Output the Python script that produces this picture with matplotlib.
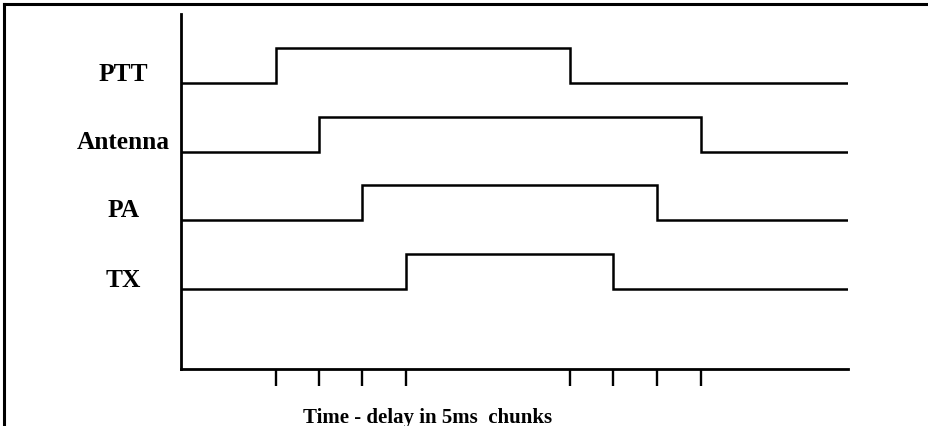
import matplotlib.pyplot as plt
from matplotlib.lines import Line2D

# signal lanes, top to bottom
signals = ['PTT', 'Antenna', 'PA', 'TX']
lane_base = [4.16, 3.16, 2.17, 1.16]   # low level of each lane
pulse_height = 0.51
rise = [2.18, 3.17, 4.16, 5.17]
fall = [8.94, 11.95, 10.94, 9.93]
t_end = 15.33
tick_times = [2.18, 3.17, 4.16, 5.17, 8.94, 9.93, 10.94, 11.95]

W, H = 929, 427
fig = plt.figure(figsize=(W / 100, H / 100), dpi=100)
ax = fig.add_axes([181 / W, (H - 370) / H, (848 - 181) / W, (370 - 15) / H])

for name, base, r, f in zip(signals, lane_base, rise, fall):
    hi = base + pulse_height
    ax.plot([0, r, r, f, f, t_end], [base, base, hi, hi, base, base],
            color='black', lw=1.8, solid_joinstyle='miter')
    ax.text(-1.33, base + 0.15, name, ha='center', va='center',
            fontsize=18.3, fontweight='bold', family='Liberation Serif')

ax.set_xlim(0, t_end)
ax.set_ylim(0, 5.17)
for s in ['top', 'right']:
    ax.spines[s].set_visible(False)
for s in ['left', 'bottom']:
    ax.spines[s].set_linewidth(2.0)
ax.set_xticks(tick_times)
ax.set_xticklabels([])
ax.set_yticks([])
ax.tick_params(axis='x', direction='out', length=12, width=1.7)

fig.text(428 / W, 1 - 418 / H, 'Time - delay in 5ms  chunks', ha='center', va='center',
         fontsize=15, fontweight='bold', family='Liberation Serif')

# outer frame (only top and left visible)
fig.add_artist(Line2D([4 / W, 1], [1 - 5 / H, 1 - 5 / H], color='black', lw=2.2,
                      transform=fig.transFigure))
fig.add_artist(Line2D([4 / W, 4 / W], [0, 1 - 5 / H], color='black', lw=2.2,
                      transform=fig.transFigure))

fig.savefig('out.png', dpi=100)
